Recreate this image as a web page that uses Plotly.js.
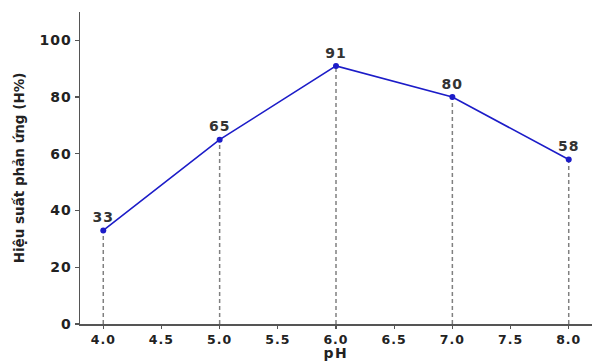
<!DOCTYPE html>
<html>
<head>
<meta charset="utf-8">
<script src="https://cdn.plot.ly/plotly-3.0.1.min.js"></script>
<style>
html,body{margin:0;padding:0;background:#fff;}
#chart{width:594px;height:362px;}
#chart .xtick text, #chart .ytick text {letter-spacing:1px;}
#chart .textpoint text {letter-spacing:1px;}
#chart .annotation-text {letter-spacing:1.5px;}
</style>
</head>
<body>
<div id="chart"></div>
<script>
var phValues = [4.0, 5.0, 6.0, 7.0, 8.0];
var yieldValues = [33, 65, 91, 80, 58];
var xTickVals = [4.0, 4.5, 5.0, 5.5, 6.0, 6.5, 7.0, 7.5, 8.0];
var xTickText = ["4.0", "4.5", "5.0", "5.5", "6.0", "6.5", "7.0", "7.5", "8.0"];
var yTickVals = [0, 20, 40, 60, 80, 100];

var dropX = [], dropY = [];
phValues.forEach(function (x, i) {
  dropX.push(x, x, null);
  dropY.push(0, yieldValues[i], null);
});

var font = {family: "DejaVu Sans", size: 14, color: "#222", weight: "bold"};
var xfont = {family: "DejaVu Sans", size: 12.5, color: "#222", weight: "bold"};

var traces = [
  {
    x: dropX, y: dropY, type: "scatter", mode: "lines",
    line: {color: "#808080", width: 1.5, dash: "4px,3px"},
    hoverinfo: "skip", showlegend: false
  },
  {
    x: phValues, y: yieldValues, type: "scatter", mode: "lines+markers+text",
    line: {color: "#1c1cc8", width: 1.6},
    marker: {color: "#1c1cc8", size: 6},
    text: yieldValues.map(String),
    textposition: "top center",
    textfont: {family: "DejaVu Sans", size: 14, color: "#333", weight: "bold"},
    showlegend: false, cliponaxis: false
  }
];

var layout = {
  width: 594, height: 362,
  margin: {l: 80, r: 2, t: 12, b: 38},
  paper_bgcolor: "#fff", plot_bgcolor: "#fff",
  font: font,
  showlegend: false,
  xaxis: {
    range: [3.8, 8.2],
    tickvals: xTickVals, ticktext: xTickText,
    showgrid: false, zeroline: false,
    showline: true, linecolor: "#555", linewidth: 1.5,
    ticks: "outside", ticklen: 3, tickcolor: "#555", tickwidth: 1.2,
    tickfont: xfont
  },
  yaxis: {
    range: [0, 110],
    tickvals: yTickVals,
    showgrid: false, zeroline: false,
    showline: true, linecolor: "#555", linewidth: 1.5,
    ticks: "outside", ticklen: 4, tickcolor: "#555", tickwidth: 1.2,
    tickfont: font,
    title: {text: "Hiệu suất phản ứng (H%)", font: {family: "DejaVu Sans", size: 13.5, color: "#222", weight: "bold"}, standoff: 14}
  },
  annotations: [{
    text: "pH", xref: "paper", yref: "paper", x: 0.5, y: 0,
    xanchor: "center", yanchor: "top", yshift: -20, showarrow: false, borderpad: 0,
    font: {family: "DejaVu Sans", size: 14, color: "#222", weight: "bold"}
  }]
};

Plotly.newPlot("chart", traces, layout, {displayModeBar: false, staticPlot: true});
</script>
</body>
</html>
